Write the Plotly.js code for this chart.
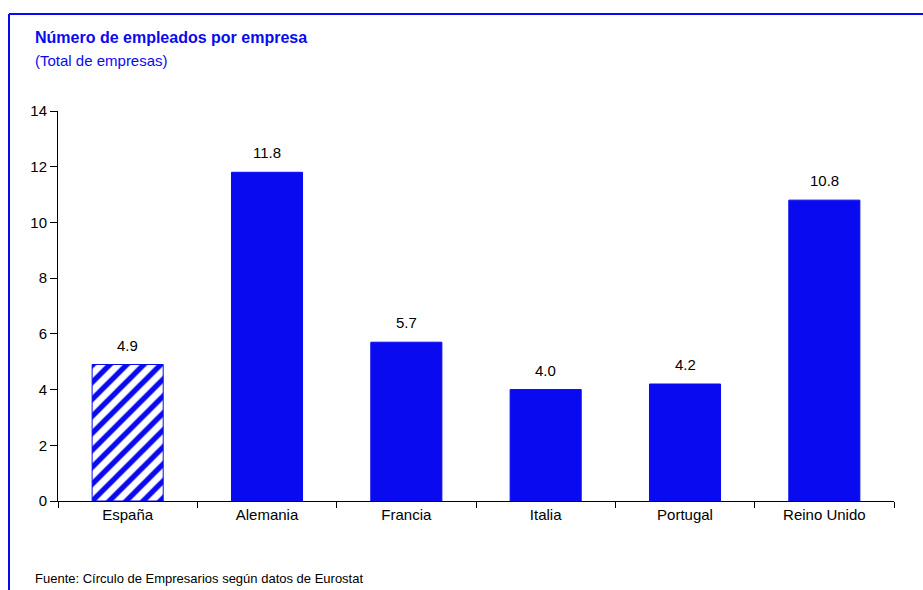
<!DOCTYPE html>
<html><head><meta charset="utf-8">
<script src="https://cdn.plot.ly/plotly-3.0.1.min.js"></script>
<style>body{margin:0;padding:0;background:#fff}#chart{width:923px;height:590px}</style>
</head><body><div id="chart"></div>
<script>
const categories = ["España","Alemania","Francia","Italia","Portugal","Reino Unido"];
const values = [4.9, 11.8, 5.7, 4.0, 4.2, 10.8];
const labels = ["4.9","11.8","5.7","4.0","4.2","10.8"];
const yTicks = [0,2,4,6,8,10,12,14];

const blue = "#0a0af0";
const font = "'Liberation Sans', Arial, sans-serif";

const hatched = {
  type: "bar",
  x: categories.slice(0,1),
  y: values.slice(0,1),
  width: 0.51,
  marker: {
    color: blue,
    line: {color: blue, width: 1},
    pattern: {shape: "/", fgcolor: blue, bgcolor: "#ffffff", fgopacity: 1,
              fillmode: "replace", size: 12, solidity: 0.45}
  },
  hoverinfo: "skip"
};
const solid = {
  type: "bar",
  x: categories.slice(1),
  y: values.slice(1),
  width: 0.51,
  marker: {color: blue, line: {color: blue, width: 1}},
  hoverinfo: "skip"
};

const labelAnnotations = categories.map((c,i)=>({
  x: c, y: values[i], xref: "x", yref: "y", text: labels[i],
  showarrow: false, yanchor: "bottom", yshift: 9,
  font: {family: font, size: 15, color: "#000"}
}));

const layout = {
  width: 923, height: 590,
  margin: {l: 58, r: 29, t: 111, b: 89},
  paper_bgcolor: "#fff", plot_bgcolor: "#fff",
  showlegend: false,
  barmode: "overlay",
  font: {family: font, size: 15, color: "#000"},
  xaxis: {
    type: "category",
    categoryorder: "array", categoryarray: categories,
    showline: true, linecolor: "#000", linewidth: 1,
    ticks: "outside", ticklen: 6, tickcolor: "#000",
    tickson: "boundaries",
    showgrid: false, zeroline: false,
    tickfont: {family: font, size: 15, color: "#000"},
    fixedrange: true
  },
  yaxis: {
    range: [0, 14],
    tickvals: yTicks,
    ticktext: yTicks.map(String),
    showline: true, linecolor: "#000", linewidth: 1,
    ticks: "outside", ticklen: 7, tickcolor: "#000",
    showgrid: false, zeroline: false,
    tickfont: {family: font, size: 15, color: "#000"},
    fixedrange: true
  },
  annotations: labelAnnotations.concat([
    {text: "<b>Número de empleados por empresa</b>", xref: "paper", yref: "paper",
     x: (33-58)/836, y: (501-37)/390, xanchor: "left", yanchor: "middle", showarrow: false,
     font: {family: font, size: 16, color: blue}},
    {text: "(Total de empresas)", xref: "paper", yref: "paper",
     x: (33-58)/836, y: (501-60)/390, xanchor: "left", yanchor: "middle", showarrow: false,
     font: {family: font, size: 15, color: blue}},
    {text: "Fuente: Círculo de Empresarios según datos de Eurostat", xref: "paper", yref: "paper",
     x: (33-58)/836, y: (501-578)/390, xanchor: "left", yanchor: "middle", showarrow: false,
     font: {family: font, size: 13, color: "#000"}}
  ]),
  shapes: [
    {type: "line", xref: "paper", yref: "paper", x0: (9-58)/836, x1: (923-58)/836,
     y0: (501-14)/390, y1: (501-14)/390, line: {color: blue, width: 2}},
    {type: "line", xref: "paper", yref: "paper", x0: (9-58)/836, x1: (9-58)/836,
     y0: (501-14)/390, y1: (501-592)/390, line: {color: blue, width: 2}}
  ]
};

Plotly.newPlot("chart", [hatched, solid], layout, {displayModeBar: false, staticPlot: true});
</script></body></html>
